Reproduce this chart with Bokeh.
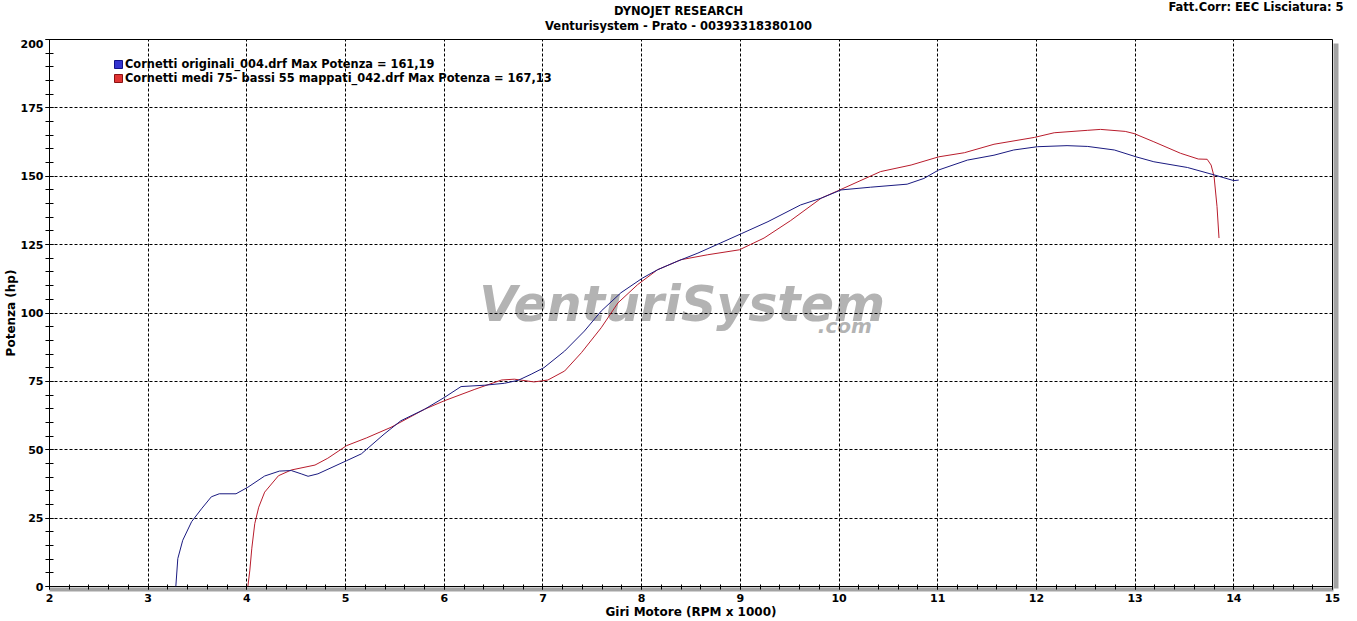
import numpy as np
from bokeh.plotting import figure
from bokeh.models import (Range1d, Label, Legend, LegendItem, LinearAxis,
                          FixedTicker, ColumnDataSource)
from bokeh.embed import file_html
from bokeh.resources import INLINE

# ---------------- data ----------------
blue_rpm = [3.28, 3.30, 3.35, 3.44, 3.54, 3.64, 3.72, 3.89, 4.01, 4.18, 4.33, 4.45,
            4.55, 4.62, 4.72, 5.01, 5.16, 5.39, 5.56, 5.80, 6.00, 6.17, 6.41, 6.61,
            6.75, 6.88, 7.01, 7.22, 7.42, 7.59, 7.79, 8.01, 8.16, 8.36, 8.57, 8.80,
            9.01, 9.28, 9.61, 9.82, 10.02, 10.32, 10.69, 10.86, 11.01, 11.30, 11.57,
            11.77, 12.01, 12.31, 12.52, 12.79, 13.01, 13.19, 13.53, 13.80, 14.00, 14.05]
blue_hp = [0.0, 10.2, 16.9, 23.7, 28.4, 32.8, 33.9, 33.9, 36.3, 40.4, 42.2, 42.4,
           41.2, 40.3, 41.2, 46.0, 48.5, 55.7, 60.6, 64.8, 69.1, 73.1, 73.6, 74.3,
           75.4, 77.6, 80.0, 86.1, 93.4, 100.7, 107.4, 112.8, 115.8, 118.9, 121.9, 125.6,
           129.0, 133.4, 139.5, 142.0, 145.0, 146.0, 147.1, 149.2, 152.3, 155.9, 157.7,
           159.6, 160.8, 161.19, 160.9, 159.6, 157.1, 155.3, 153.2, 150.5, 148.4, 148.6]

red_rpm = [4.01, 4.03, 4.05, 4.08, 4.12, 4.18, 4.32, 4.45, 4.69, 4.82, 5.01, 5.21,
           5.46, 5.80, 6.00, 6.31, 6.58, 6.71, 6.91, 7.05, 7.22, 7.39, 7.59, 7.76,
           7.96, 8.16, 8.40, 8.67, 8.99, 9.24, 9.51, 9.82, 10.02, 10.42, 10.73, 11.01,
           11.27, 11.57, 11.98, 12.18, 12.52, 12.65, 12.90, 12.99, 13.19, 13.46, 13.64,
           13.73, 13.77, 13.80, 13.83, 13.85]
red_hp = [0.0, 6.0, 14.0, 23.0, 29.0, 34.5, 40.5, 42.6, 44.4, 46.9, 51.5, 54.3,
          58.2, 64.8, 67.9, 72.1, 75.5, 75.8, 74.8, 75.5, 78.8, 85.5, 94.6, 103.7,
          110.4, 115.8, 119.5, 121.3, 123.1, 127.4, 133.8, 142.0, 145.2, 151.7, 154.1, 157.1,
          158.6, 161.7, 164.2, 165.9, 166.8, 167.13, 166.4, 165.6, 162.6, 158.4, 156.3,
          156.2, 154.1, 149.9, 138.9, 127.4]

x_ticks = list(range(2, 16))
y_ticks = list(range(0, 201, 25))
x_minor = [round(2 + 0.2 * i, 1) for i in range(66)]
y_minor = list(range(0, 201, 5))

title1 = "DYNOJET RESEARCH"
title2 = "Venturisystem - Prato - 00393318380100"
corr_text = "Fatt.Corr: EEC  Lisciatura: 5"
x_label = "Giri Motore (RPM x 1000)"
y_label = "Potenza (hp)"
blue_name = "Cornetti originali_004.drf Max Potenza = 161,19"
red_name = "Cornetti medi 75- bassi 55 mappati_042.drf Max Potenza = 167,13"
watermark = "VenturiSystem"
watermark2 = ".com"

# ---------------- layout ----------------
W = 1357
TOP_H = 39                 # header strip height
L, FW, FH = 48, 1284, 549  # main frame
H = 582                    # main figure height
R = W - L - FW
B = H - FH
X0, X1, Y0, Y1 = 2, 15, 0, 200
FONT = "DejaVu Sans"
BLUE = "#1a1a80"
RED = "#b81c2c"
SHADOW = "#a3a3a3"
PX_X = (X1 - X0) / FW      # rpm per pixel
PX_Y = (Y1 - Y0) / FH      # hp per pixel

def dx(fx):            # page pixel x -> rpm
    return X0 + (fx - L) * PX_X

def dy(fy):            # page pixel y -> hp
    return Y0 + (TOP_H + FH - fy) * PX_Y

# ---------------- header strip ----------------
top = figure(width=W, height=TOP_H, x_range=Range1d(0, W), y_range=Range1d(TOP_H, 0),
             output_backend="svg", toolbar_location=None, min_border=0,
             x_axis_location=None, y_axis_location=None, outline_line_color=None,
             background_fill_color="white", border_fill_color="white")
top.xgrid.visible = False
top.ygrid.visible = False

def head(x, y, s, align):
    top.add_layout(Label(x=x, y=y, text=s, text_font=FONT, text_font_size="11.5px",
                         text_font_style="bold", text_color="black",
                         text_align=align, text_baseline="middle"))

head(678, 10, title1, "center")
head(678, 25, title2, "center")
head(1347, 6, corr_text, "right")

# ---------------- main chart ----------------
p = figure(width=W, height=H, x_range=Range1d(X0, X1), y_range=Range1d(Y0, Y1),
           output_backend="svg", toolbar_location=None,
           min_border_left=L, min_border_right=R, min_border_top=0, min_border_bottom=B,
           background_fill_color="white", border_fill_color="white",
           outline_line_color="black", outline_line_width=1)

for ax in (p.xaxis[0], p.yaxis[0]):
    ax.major_label_text_font = FONT
    ax.major_label_text_font_size = "11px"
    ax.major_label_text_font_style = "bold"
    ax.major_label_text_color = "black"
    ax.axis_line_color = "black"
    ax.major_tick_line_color = "black"
    ax.minor_tick_line_color = "black"
    ax.axis_label_text_font = FONT
    ax.axis_label_text_font_size = "12px"
    ax.axis_label_text_font_style = "bold"
    ax.axis_label_text_color = "black"

p.xaxis.axis_label = x_label
p.yaxis.axis_label = y_label
p.xaxis.ticker = FixedTicker(ticks=x_ticks, minor_ticks=x_minor)
p.yaxis.ticker = FixedTicker(ticks=y_ticks, minor_ticks=y_minor)
p.xaxis.axis_line_color = None
p.xaxis.major_tick_in = 3
p.xaxis.major_tick_out = 2
p.xaxis.minor_tick_in = 3
p.xaxis.minor_tick_out = 2
p.xaxis.major_label_standoff = 4
p.xaxis.axis_label_standoff = 0
p.yaxis.major_tick_in = 4
p.yaxis.major_tick_out = 4
p.yaxis.minor_tick_in = 4
p.yaxis.minor_tick_out = 4
p.yaxis.major_label_standoff = 2
p.yaxis.axis_label_standoff = 0

p.xgrid.ticker = FixedTicker(ticks=x_ticks)
p.ygrid.ticker = FixedTicker(ticks=y_ticks)
for g in (p.xgrid[0], p.ygrid[0]):
    g.grid_line_color = "black"
    g.grid_line_dash = "3 2"
    g.grid_line_width = 1

# frame shadow: bare axes whose dense (label-free) minor ticks paint a grey band
# just outside the frame
def shadow_axis(ticks, t_in, t_out):
    return LinearAxis(ticker=FixedTicker(ticks=[], minor_ticks=list(ticks)),
                      axis_line_color=None,
                      major_tick_line_color=None, major_tick_in=0, major_tick_out=0,
                      minor_tick_line_color=SHADOW, minor_tick_line_width=4,
                      minor_tick_line_cap="butt",
                      minor_tick_in=t_in, minor_tick_out=t_out,
                      major_label_standoff=0)

sb = shadow_axis(np.arange(X0 + 2 * PX_X, X1 + 1e-9, 3 * PX_X), -5, 1)
sr = shadow_axis(np.arange(Y0, Y1 - 5 * PX_Y, 3 * PX_Y), -6, 1)
p.below.insert(0, sb)
p.add_layout(sr, "right")

# watermark
p.add_layout(Label(x=dx(478), y=dy(305), text=watermark, text_font=FONT,
                   text_font_size="49px", text_font_style="bold italic",
                   text_color="#b3b3b3", text_align="left", text_baseline="middle",
                   level="image"))
p.add_layout(Label(x=dx(871), y=dy(327), text=watermark2, text_font=FONT,
                   text_font_size="20px", text_font_style="bold italic",
                   text_color="#b3b3b3", text_align="right", text_baseline="middle",
                   level="image"))

# curves
p.line("x", "y", source=ColumnDataSource(dict(x=red_rpm, y=red_hp)),
       line_color=RED, line_width=1)
p.line("x", "y", source=ColumnDataSource(dict(x=blue_rpm, y=blue_hp)),
       line_color=BLUE, line_width=1)

# legend swatches (no drawable point, only used by the legend)
def nan_box():
    return ColumnDataSource(dict(left=np.array([np.nan]), right=np.array([np.nan]),
                                 top=np.array([np.nan]), bottom=np.array([np.nan])))

sw_blue = p.quad(source=nan_box(), left="left", right="right", top="top",
                 bottom="bottom", fill_color="#3434d0", line_color="#12128a")
sw_red = p.quad(source=nan_box(), left="left", right="right", top="top",
                bottom="bottom", fill_color="#e03434", line_color="#8a1212")
legend = Legend(items=[LegendItem(label=blue_name, renderers=[sw_blue]),
                       LegendItem(label=red_name, renderers=[sw_red])],
                location=(64, 501), padding=0, margin=0, spacing=0,
                glyph_width=10, glyph_height=10, label_height=10, label_standoff=2,
                label_text_font=FONT, label_text_font_size="11.4px",
                label_text_font_style="bold", label_text_color="black",
                border_line_alpha=0, background_fill_alpha=0)
p.add_layout(legend)

open("out.html", "w").write(file_html([top, p], INLINE))
